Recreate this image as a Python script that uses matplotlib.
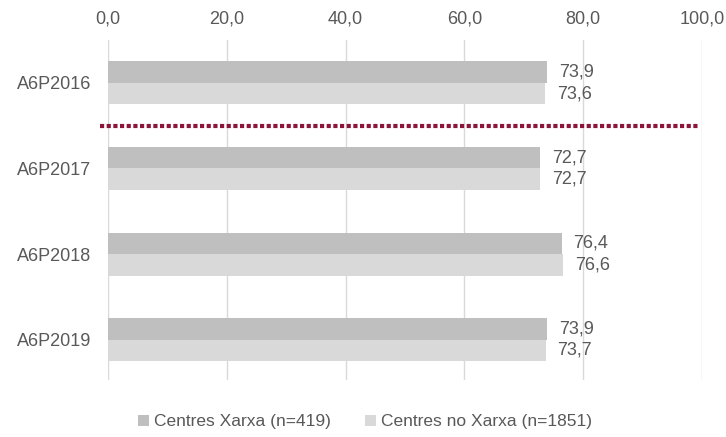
import matplotlib

matplotlib.use("Agg")
import matplotlib.pyplot as plt
import numpy as np

categories = ["A6P2016", "A6P2017", "A6P2018", "A6P2019"]
xarxa = [73.9, 72.7, 76.4, 73.9]
no_xarxa = [73.6, 72.7, 76.6, 73.7]
series_labels = ["Centres Xarxa (n=419)", "Centres no Xarxa (n=1851)"]
x_ticks = [0, 20, 40, 60, 80, 100]

plt.rcParams["font.family"] = ["Liberation Sans", "DejaVu Sans"]
TXT = "#595959"
DARK = "#BFBFBF"
LIGHT = "#D9D9D9"
FS = 13

fig = plt.figure(figsize=(7.26, 4.37), dpi=100)
ax = fig.add_axes([0.1488, 0.1304, 0.818, 0.778])

y = np.arange(len(categories))
h = 0.25
ax.barh(y - h / 2, xarxa, height=h, color=DARK, label=series_labels[0], zorder=2)
ax.barh(y + h / 2, no_xarxa, height=h, color=LIGHT, label=series_labels[1], zorder=2)


def fmt(v):
    return f"{v:.1f}".replace(".", ",")


for i in range(len(categories)):
    ax.text(xarxa[i] + 2.0, y[i] - h / 2, fmt(xarxa[i]), va="center", ha="left",
            fontsize=FS, color=TXT)
    ax.text(no_xarxa[i] + 2.0, y[i] + h / 2, fmt(no_xarxa[i]), va="center", ha="left",
            fontsize=FS, color=TXT)

# dotted separator between 2016 and 2017
ax.plot([-1.3, 99.3], [0.5, 0.5], color="#8B1538", linewidth=3,
        linestyle=(0, (1, 0.6)), zorder=3, clip_on=False)

ax.set_xlim(0, 100)
ax.set_ylim(3.47, -0.5)
ax.set_xticks(x_ticks)
ax.set_xticklabels([fmt(v) for v in x_ticks], fontsize=FS, color=TXT)
ax.xaxis.tick_top()
ax.tick_params(axis="x", length=0, pad=9)
ax.set_yticks(y)
ax.set_yticklabels(categories, fontsize=FS, color=TXT)
ax.tick_params(axis="y", length=0, pad=12)
ax.grid(axis="x", color=LIGHT, linewidth=1, zorder=0)
for s in ax.spines.values():
    s.set_visible(False)

ax.legend(loc="upper center", bbox_to_anchor=(0.433, -0.055), ncol=2, frameon=False,
          fontsize=12.5, labelcolor=TXT, handlelength=0.6, handleheight=0.6,
          handletextpad=0.3, columnspacing=2.0)

fig.savefig("out.png", dpi=100)
